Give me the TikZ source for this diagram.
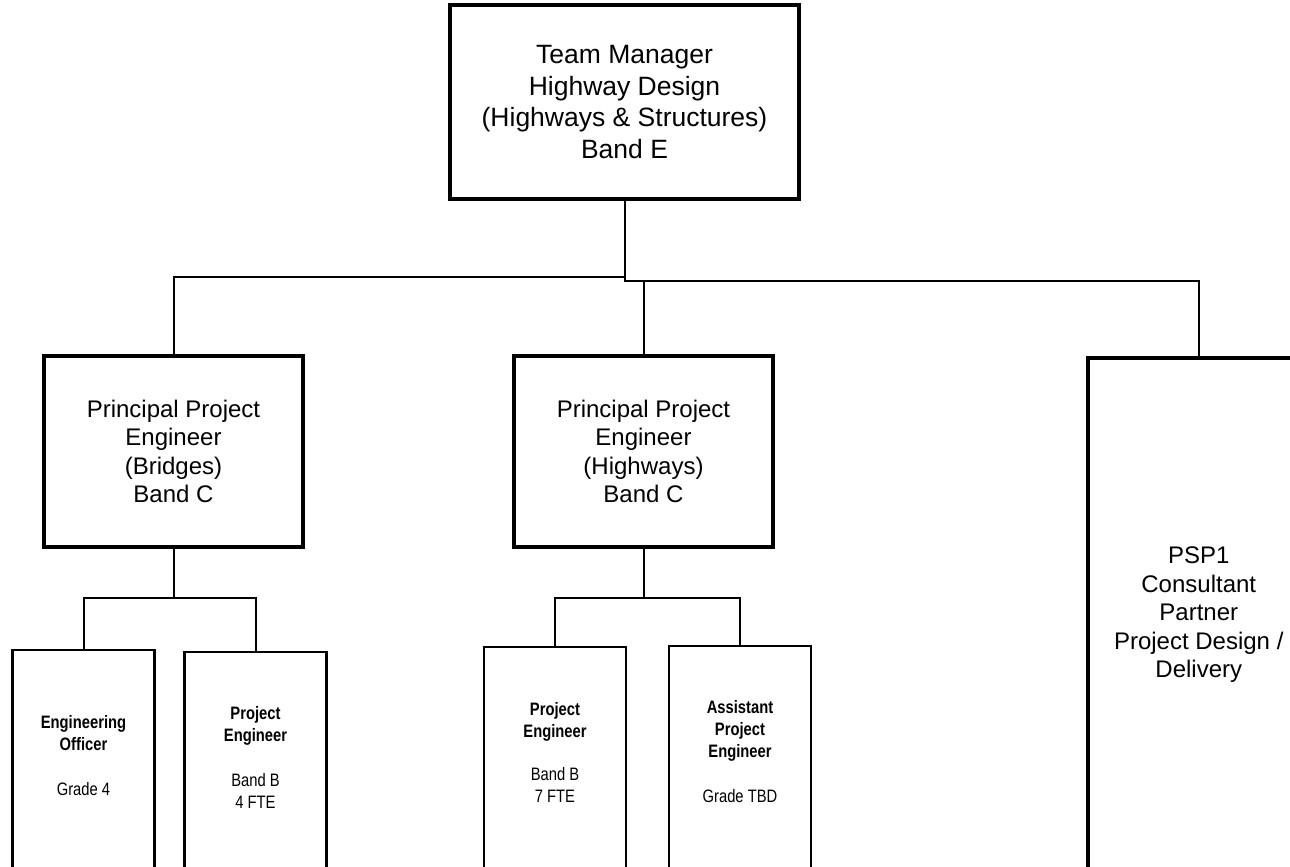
\documentclass[tikz,border=0pt]{standalone}
\usepackage{fontspec}
\setmainfont{Liberation Sans}
\newfontfamily\narrowfont[FakeStretch=0.82]{Liberation Sans}
\begin{document}
\begin{tikzpicture}[x=1pt, y=-1pt,
        bigbox/.style={draw, line width=3.5pt, inner sep=0pt, align=center,
            font=\fontsize{24}{28.5}\selectfont},
        smallbox/.style={draw, line width=2.4pt, inner sep=0pt, align=center,
            anchor=north, minimum width=142pt, minimum height=225pt,
            text depth=15pt, font=\narrowfont\fontsize{18}{22}\selectfont},
        link/.style={line width=2pt}]
    \useasboundingbox (0,0) rectangle (1290,867);
    \clip (0,0) rectangle (1290,867);

    \node[bigbox, minimum width=349pt, minimum height=194pt,
        font=\fontsize{26.5}{31.5}\selectfont] (tm) at (624.5,102)
        {Team Manager\\Highway Design\\(Highways \& Structures)\\Band E};

    \node[bigbox, minimum width=259pt, minimum height=191pt] (ppeb) at (173.5,451.5)
        {Principal Project\\Engineer\\(Bridges)\\Band C};
    \node[bigbox, minimum width=259pt, minimum height=191pt] (ppeh) at (643.5,451.5)
        {Principal Project\\Engineer\\(Highways)\\Band C};
    \node[bigbox, anchor=north west, minimum width=222pt, minimum height=514pt] (psp) at (1086,356)
        {PSP1\\Consultant\\Partner\\Project Design /\\Delivery};

    \node[smallbox] (eo) at (83.5,649)
        {\textbf{Engineering}\\\textbf{Officer}\\[23pt]Grade 4};
    \node[smallbox] (peb) at (255.5,651)
        {\textbf{Project}\\\textbf{Engineer}\\[23pt]Band B\\4 FTE};
    \node[smallbox] (peh) at (555,646)
        {\textbf{Project}\\\textbf{Engineer}\\[21pt]Band B\\7 FTE};
    \node[smallbox] (ape) at (740,645)
        {\textbf{Assistant}\\\textbf{Project}\\\textbf{Engineer}\\[23pt]Grade TBD};

    \coordinate (busl) at (0,277);
    \coordinate (busr) at (0,281);
    \coordinate (busb) at (0,598);

    \draw[link] (tm.south) |- (ppeb.north |- busl) -- (ppeb.north);
    \draw[link] (tm.south) |- (psp.north |- busr) -- (psp.north);
    \draw[link] (tm.south |- busr) -| (ppeh.north);

    \draw[link] (ppeb.south) -- (ppeb.south |- busb) -| (eo.north);
    \draw[link] (ppeb.south |- busb) -| (peb.north);
    \draw[link] (ppeh.south) -- (ppeh.south |- busb) -| (peh.north);
    \draw[link] (ppeh.south |- busb) -| (ape.north);
\end{tikzpicture}
\end{document}
